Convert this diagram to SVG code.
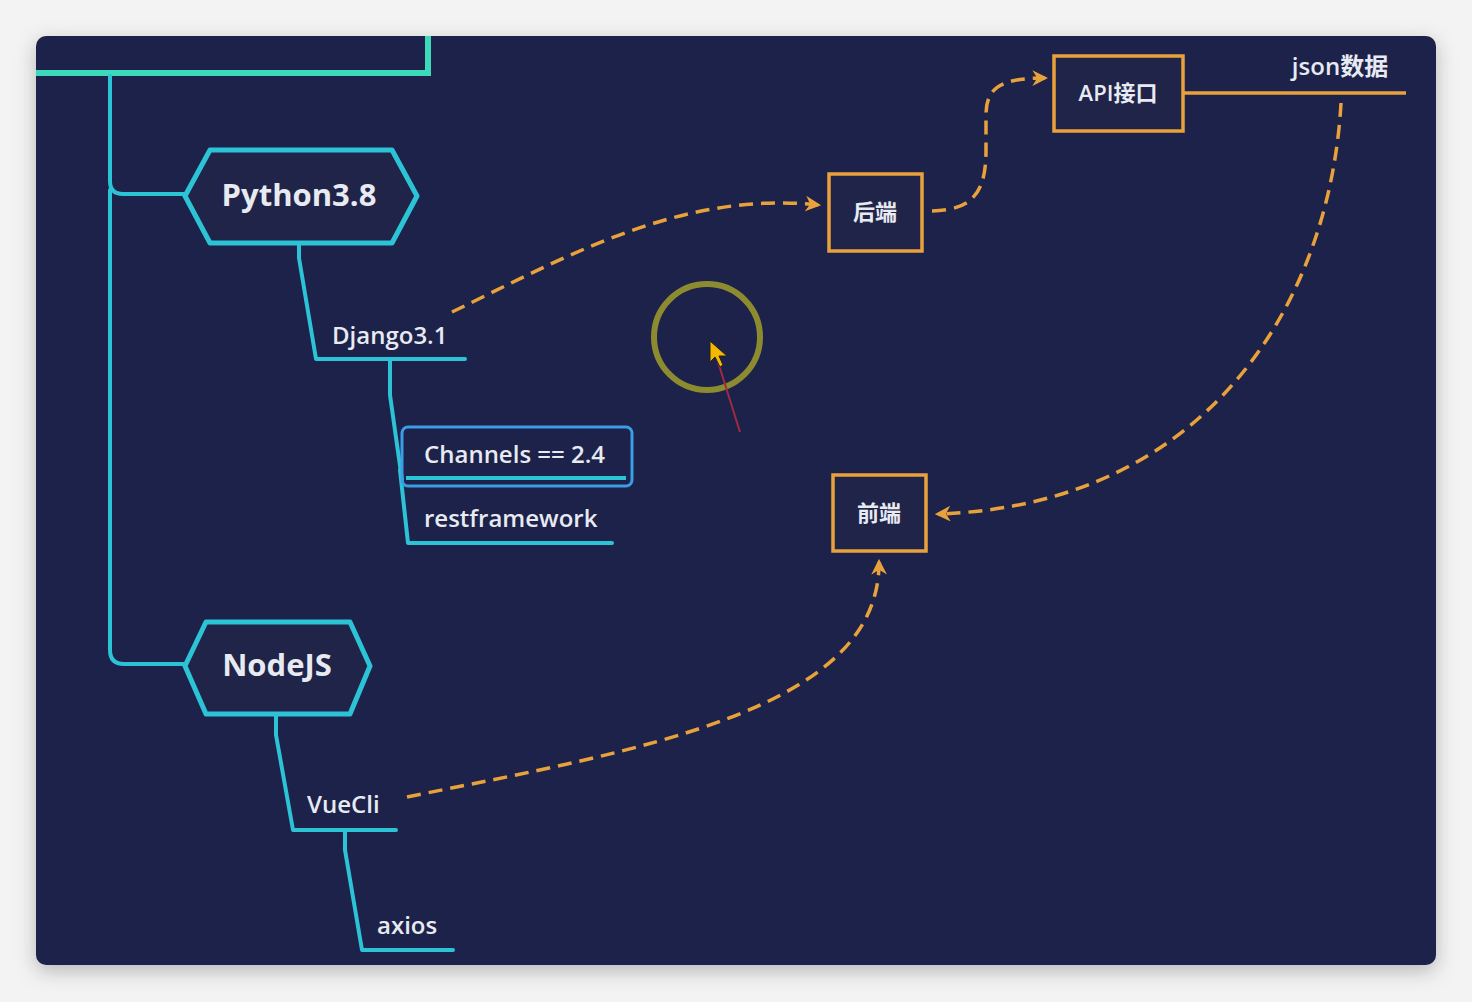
<svg xmlns="http://www.w3.org/2000/svg" width="1472" height="1002" viewBox="0 0 1472 1002">
<defs>
<filter id="shadow" x="-5%" y="-5%" width="110%" height="115%">
<feDropShadow dx="0" dy="6" stdDeviation="10" flood-color="#000" flood-opacity="0.25"/>
</filter>
<clipPath id="panelClip"><rect x="36" y="36" width="1400" height="929" rx="10"/></clipPath>
<marker id="arr" viewBox="0 0 10 10" refX="8" refY="5" markerWidth="4.5" markerHeight="4.5" orient="auto" markerUnits="strokeWidth">
<path d="M0,0 L10,5 L0,10 L3,5 Z" fill="#e9a23b"/>
</marker>
<style>
.cy{fill:none;stroke:#2cc3d6;stroke-width:4;stroke-linejoin:round;stroke-linecap:round}
.hex{fill:#1f2448;stroke:#2cc3d6;stroke-width:5;stroke-linejoin:round}
.ob{fill:#1f2448;stroke:#e9a23b;stroke-width:3.5}
.dash{fill:none;stroke:#e9a23b;stroke-width:3.5;stroke-dasharray:14 8}
.t{font-family:"Open Sans","Noto Sans","Noto Sans CJK SC",sans-serif;fill:#e8eaf2}
.big{font-size:31px;font-weight:bold}
.mid{font-size:24px;font-weight:600}
.cn{font-size:22px;font-weight:600}
</style>
</defs>
<rect x="0" y="0" width="1472" height="1002" fill="#f3f3f3"/>
<rect x="36" y="36" width="1400" height="929" rx="10" fill="#1f2448" filter="url(#shadow)"/>
<g clip-path="url(#panelClip)">
<rect id="root" x="20" y="10" width="408" height="63" fill="none" stroke="#3dd9bb" stroke-width="6"/>
<g id="connectors">
<path class="cy" d="M110,76 L110,181 Q110,194 123,194 L185,194"/>
<path class="cy" d="M110,190 L110,650 Q110,664 124,664 L185,664"/>
<path class="cy" d="M299,244 L299,258 L316,359 L465,359"/>
<path class="cy" d="M390,360 L390,395 L402,480"/>
<path class="cy" d="M400,470 L408,543 L612,543"/>
<path class="cy" d="M276,715 L276,735 L293,830 L396,830"/>
<path class="cy" d="M345,831 L345,850 L362,950 L453,950"/>
<path d="M1183,93 L1406,93" fill="none" stroke="#e9a23b" stroke-width="3.5"/>
<path class="dash" d="M452,312 C560,260 680,190 818,205" marker-end="url(#arr)"/>
<path class="dash" d="M932,211 C975,210 986,190 986,150 L986,115 C986,88 1000,78 1045,78" marker-end="url(#arr)"/>
<path class="dash" d="M1341,103 C1330,300 1210,505 938,514" marker-end="url(#arr)"/>
<path class="dash" d="M407,797 C640,750 880,710 879,562" marker-end="url(#arr)"/>
</g>
<g id="python">
<polygon class="hex" points="185,196 210,150 392,150 417,196 392,243 210,243"/>
<text class="t big" x="299" y="206" text-anchor="middle">Python3.8</text>
</g>
<g id="django"><text class="t mid" x="332" y="344">Django3.1</text></g>
<g id="channels">
<rect x="402" y="427" width="230" height="59" rx="6" fill="none" stroke="#3a9de6" stroke-width="3"/>
<path d="M406,478 L626,478" stroke="#2cc3d6" stroke-width="4"/>
<text class="t mid" x="424" y="463">Channels == 2.4</text>
</g>
<g id="restframework"><text class="t mid" x="424" y="527">restframework</text></g>
<g id="nodejs">
<polygon class="hex" points="185,666 206,622 350,622 370,666 350,714 206,714"/>
<text class="t big" x="277" y="676" text-anchor="middle">NodeJS</text>
</g>
<g id="vuecli"><text class="t mid" x="307" y="813">VueCli</text></g>
<g id="axios"><text class="t mid" x="377" y="934">axios</text></g>
<g id="backend">
<rect class="ob" x="829" y="174" width="93" height="77"/>
<text class="t cn" x="875" y="220" text-anchor="middle">后端</text>
</g>
<g id="api">
<rect class="ob" x="1054" y="56" width="129" height="75"/>
<text class="t cn" x="1118" y="101" text-anchor="middle">API接口</text>
</g>
<g id="json"><text class="t cn" x="1340" y="75" text-anchor="middle" style="font-size:24px">json数据</text></g>
<g id="frontend">
<rect class="ob" x="833" y="475" width="93" height="76"/>
<text class="t cn" x="879" y="521" text-anchor="middle">前端</text>
</g>
<g id="cursor">
<circle cx="707" cy="337" r="53" fill="none" stroke="#8d8b2f" stroke-width="6"/>
<line x1="718" y1="362" x2="740" y2="432" stroke="#a02a45" stroke-width="2"/>
<path d="M710,341 L710,362 L715,357 L720,367 L723,365 L719,356 L727,356 Z" fill="#f5b800" stroke="#222" stroke-width="1"/>
</g>
</g>
</svg>
